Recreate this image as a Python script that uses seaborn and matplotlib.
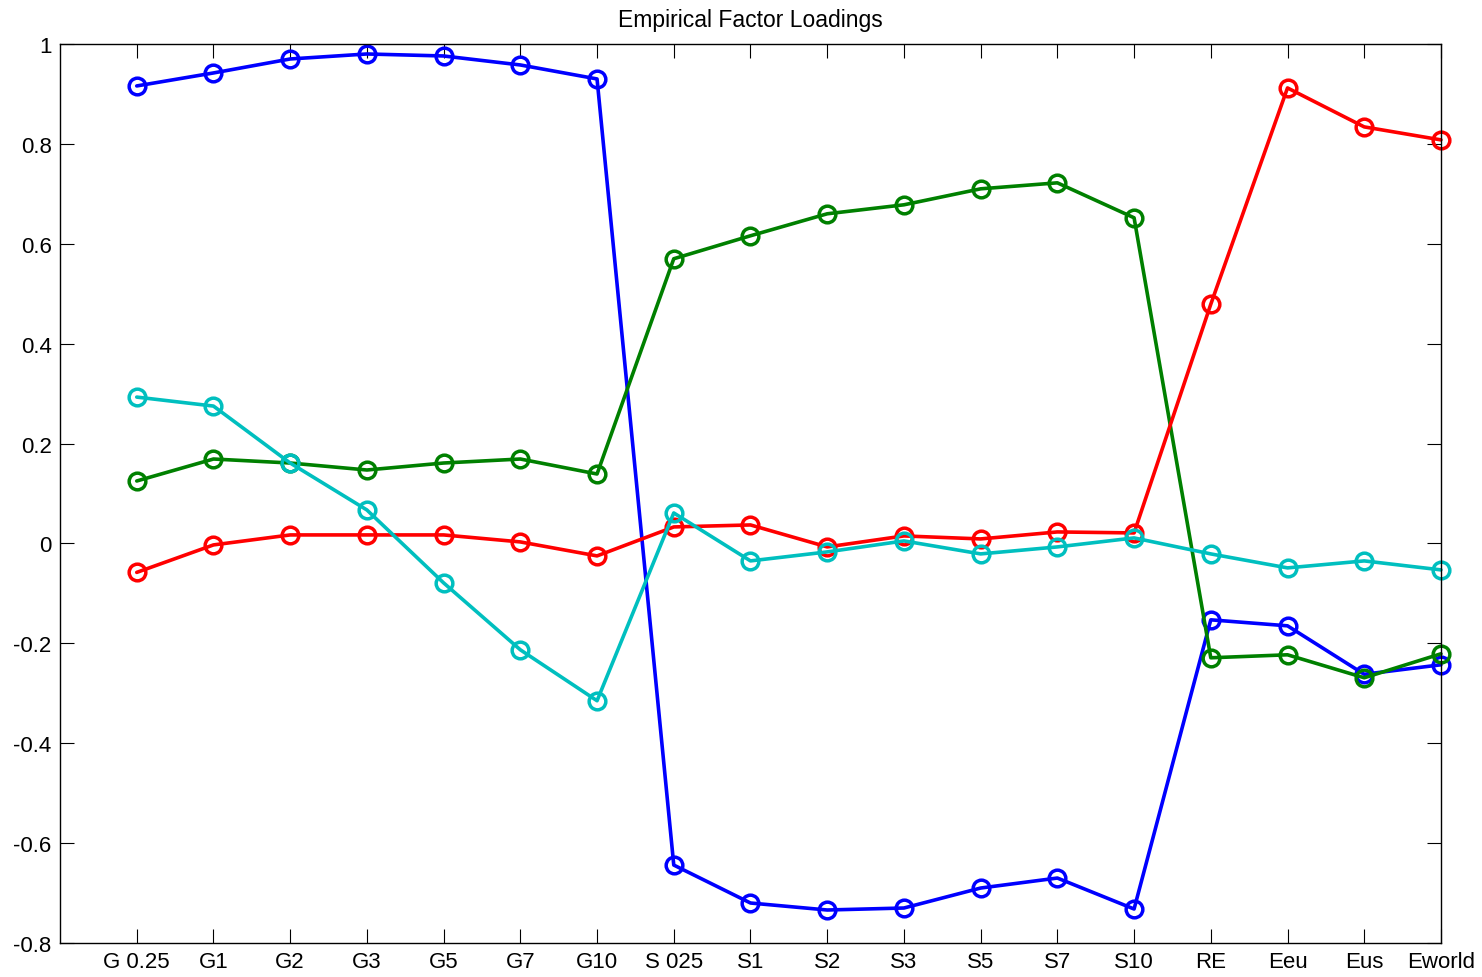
import numpy as np
import pandas as pd
import matplotlib
matplotlib.use("Agg")
import matplotlib.pyplot as plt
import seaborn as sns

categories = ["G 0.25", "G1", "G2", "G3", "G5", "G7", "G10",
              "S 025", "S1", "S2", "S3", "S5", "S7", "S10",
              "RE", "Eeu", "Eus", "Eworld"]

factor1 = [0.916, 0.942, 0.970, 0.980, 0.976, 0.958, 0.930,
           -0.644, -0.720, -0.734, -0.730, -0.690, -0.670, -0.732,
           -0.153, -0.165, -0.262, -0.243]
factor2 = [0.125, 0.169, 0.161, 0.147, 0.161, 0.169, 0.139,
           0.570, 0.616, 0.660, 0.678, 0.710, 0.722, 0.652,
           -0.229, -0.223, -0.269, -0.221]
factor3 = [-0.058, -0.003, 0.017, 0.017, 0.017, 0.003, -0.025,
           0.033, 0.037, -0.007, 0.015, 0.009, 0.023, 0.021,
           0.479, 0.912, 0.834, 0.808]
factor4 = [0.293, 0.275, 0.161, 0.067, -0.079, -0.213, -0.315,
           0.061, -0.035, -0.017, 0.005, -0.021, -0.007, 0.011,
           -0.021, -0.049, -0.035, -0.053]

series = [("F1", factor1, (0.0, 0.0, 1.0)),
          ("F2", factor2, (0.0, 0.5, 0.0)),
          ("F3", factor3, (1.0, 0.0, 0.0)),
          ("F4", factor4, (0.0, 0.75, 0.75))]

sns.set_theme(style="white")
plt.rcParams["font.family"] = ["Liberation Sans", "DejaVu Sans"]

fig = plt.figure(figsize=(14.82, 9.78), dpi=100)
ax = fig.add_axes([0.0405, 0.0348, 0.9318, 0.9192])

pos = np.arange(1, len(categories) + 1)
for name, vals, col in series:
    df = pd.DataFrame({"pos": pos, "val": vals})
    sns.lineplot(data=df, x="pos", y="val", ax=ax, color=col,
                 linewidth=2.6, marker="o", markersize=12,
                 markerfacecolor="none", markeredgecolor=col,
                 markeredgewidth=2.5, sort=False, legend=False,
                 clip_on=False)

ax.set_xlim(0, len(categories))
ax.set_ylim(-0.8, 1.0)
ax.set_xticks(pos)
ax.set_xticklabels(categories)
yt = np.round(np.arange(-0.8, 1.01, 0.2), 1)
ax.set_yticks(yt)
ax.set_yticklabels(["1" if v == 1 else ("0" if v == 0 else f"{v:g}") for v in yt])
ax.set_xlabel("")
ax.set_ylabel("")
ax.set_title("Empirical Factor Loadings", fontsize=16.5, color="black", pad=13)

for s in ax.spines.values():
    s.set_color("black")
    s.set_linewidth(1.0)
    s.set_visible(True)

ax.tick_params(axis="both", which="major", direction="in", length=10,
               width=0.8, color="black", labelsize=16, labelcolor="black",
               top=True, right=True, bottom=True, left=True, pad=6)
ax.grid(False)

fig.savefig("out.png", dpi=100, facecolor="white")
